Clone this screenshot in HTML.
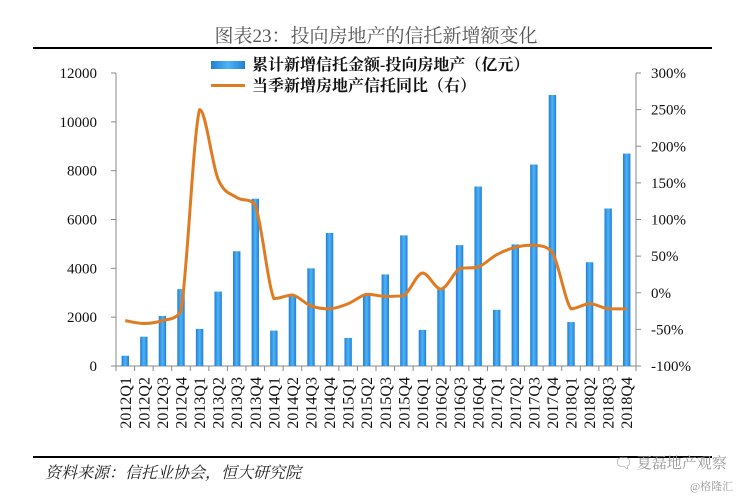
<!DOCTYPE html>
<html><head><meta charset="utf-8"><style>
body{margin:0;background:#fff}
svg{display:block}
text{font-family:"Liberation Serif","Noto Serif CJK SC",serif}
</style></head><body>
<svg id="c" width="752" height="500" viewBox="0 0 752 500" xmlns="http://www.w3.org/2000/svg">
<defs><linearGradient id="bg" x1="0" x2="1" y1="0" y2="0"><stop offset="0" stop-color="#1f7fd6"/><stop offset="0.5" stop-color="#4fb3f5"/><stop offset="1" stop-color="#1f7fd6"/></linearGradient></defs>
<text x="376" y="42" text-anchor="middle" font-size="19" fill="#555">图表23：投向房地产的信托新增额变化</text>
<rect x="33" y="47" width="679" height="2" fill="#000"/>
<rect x="33" y="456" width="679" height="2" fill="#000"/>
<g>
<rect x="211" y="61" width="34" height="8" fill="url(#bg)"/>
<text x="252" y="70" font-size="16" font-weight="bold" fill="#111">累计新增信托金额-投向房地产（亿元）</text>
<rect x="211" y="84" width="34" height="3" fill="#e07b22"/>
<text x="252" y="91" font-size="16" font-weight="bold" fill="#111">当季新增房地产信托同比（右）</text>
</g>
<g id="axes"></g><g id="bars"></g><g id="line"></g><g id="xl"></g>
<text x="45" y="478" font-size="16" font-style="italic" fill="#222">资料来源：信托业协会，恒大研究院</text>
<text x="614" y="468" font-size="15" fill="#999">🗨 夏磊地产观察</text>
<text x="690" y="490" font-size="11" fill="#999">@格隆汇</text>
</svg>
<script>
const categories=["2012Q1","2012Q2","2012Q3","2012Q4","2013Q1","2013Q2","2013Q3","2013Q4","2014Q1","2014Q2","2014Q3","2014Q4","2015Q1","2015Q2","2015Q3","2015Q4","2016Q1","2016Q2","2016Q3","2016Q4","2017Q1","2017Q2","2017Q3","2017Q4","2018Q1","2018Q2","2018Q3","2018Q4"];
const barValues=[420,1200,2050,3150,1520,3050,4700,6850,1450,2900,4000,5450,1150,2950,3750,5350,1480,3150,4950,7350,2300,4980,8250,11100,1800,4250,6450,8700];
const lineValues=[-38,-42,-38,-25,250,155,130,120,-8,-3,-18,-22,-15,-2,-5,-4,27,5,33,35,52,62,65,55,-22,-15,-22,-22];
const leftTicks=[0,2000,4000,6000,8000,10000,12000];
const rightTicks=[-100,-50,0,50,100,150,200,250,300];
const X0=116,X1=636,Y0=366,YT=73;
const NS="http://www.w3.org/2000/svg";
const step=(X1-X0)/categories.length;
const xc=i=>X0+step*(i+0.5);
const yL=v=>Y0-(v/12000)*(Y0-YT);
const yR=v=>Y0-((v+100)/400)*(Y0-YT);
function mk(t,a,p){const e=document.createElementNS(NS,t);for(const k in a)e.setAttribute(k,a[k]);p.appendChild(e);return e;}
const ax=document.getElementById('axes');
let e=mk('line',{x1:X0,y1:YT,x2:X0,y2:Y0,stroke:'#888'},ax);


e=mk('line',{x1:X1,y1:YT,x2:X1,y2:Y0,stroke:'#888'},ax);


e=mk('line',{x1:X0,y1:Y0,x2:X1,y2:Y0,stroke:'#888'},ax);


leftTicks.forEach(v=>{const y=yL(v);mk('line',{x1:X0-5,y1:y,x2:X0,y2:y,stroke:'#888'},ax);
const t=mk('text',{x:97,y:y+5,'text-anchor':'end','font-size':15,fill:'#111'},ax);t.textContent=v;

});
rightTicks.forEach(v=>{const y=yR(v);mk('line',{x1:X1,y1:y,x2:X1+5,y2:y,stroke:'#888'},ax);
const t=mk('text',{x:651,y:y+5,'font-size':15,fill:'#111'},ax);t.textContent=v+'%';

});
for(let i=0;i<=categories.length;i++){mk('line',{x1:X0+step*i,y1:Y0,x2:X0+step*i,y2:Y0+5,stroke:'#888'},ax);}
const bg=document.getElementById('bars');
barValues.forEach((v,i)=>{const r=mk('rect',{x:xc(i)-3.7,y:yL(v),width:7.4,height:Y0-yL(v),fill:'url(#bg)'},bg);

});
const pts=lineValues.map((v,i)=>[xc(i),yR(v)]);
const cl=(v,a,b)=>Math.min(Math.max(v,Math.min(a,b)),Math.max(a,b));
let d='M'+pts[0][0]+','+pts[0][1];
for(let i=0;i<pts.length-1;i++){const p0=pts[Math.max(0,i-1)],p1=pts[i],p2=pts[i+1],p3=pts[Math.min(pts.length-1,i+2)];
const c1=[p1[0]+(p2[0]-p0[0])/6,cl(p1[1]+(p2[1]-p0[1])/6,p1[1],p2[1])],c2=[p2[0]-(p3[0]-p1[0])/6,cl(p2[1]-(p3[1]-p1[1])/6,p1[1],p2[1])];
d+=` C${c1[0]},${c1[1]} ${c2[0]},${c2[1]} ${p2[0]},${p2[1]}`;}
const pl=mk('path',{d:d,fill:'none',stroke:'#e07b22','stroke-width':3,'stroke-linejoin':'round'},document.getElementById('line'));


const xl=document.getElementById('xl');
categories.forEach((c,i)=>{const x=xc(i)+5.5,y=377;const t=mk('text',{x:x,y:y,transform:`rotate(-90 ${x} ${y})`,'text-anchor':'end','font-size':16,fill:'#111'},xl);t.textContent=c;

});
</script>
</body></html>
